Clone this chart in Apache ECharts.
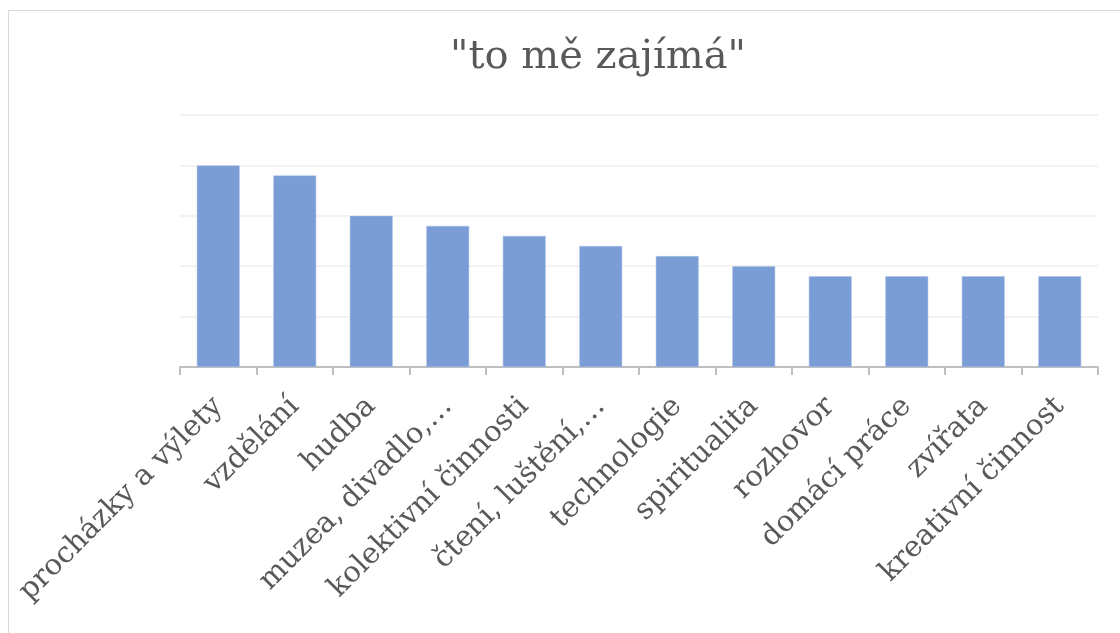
<!DOCTYPE html>
<html><head><meta charset="utf-8">
<script src="https://cdn.jsdelivr.net/npm/echarts@6/dist/echarts.min.js"></script>
<style>
html,body{margin:0;padding:0;background:#fff;}
#frame{position:absolute;left:8px;top:10px;width:1200px;height:700px;border:1px solid #d9d9d9;box-sizing:border-box;}
#chart{position:absolute;left:0;top:0;width:1120px;height:633px;}
</style>
</head><body>
<div id="frame"></div>
<div id="chart"></div>
<script>
const titleText = '"to mě zajímá"';
const categories = ['procházky a výlety','vzdělání','hudba','muzea, divadlo,…','kolektivní činnosti','čtení, luštění,…','technologie','spiritualita','rozhovor','domácí práce','zvířata','kreativní činnost'];
const values = [20, 19, 15, 14, 13, 12, 11, 10, 9, 9, 9, 9];
const yMin = 0, yMax = 25, yStep = 5;

const chart = echarts.init(document.getElementById('chart'), null, {renderer:'canvas'});
const serif = 'Georgia, "DejaVu Serif", serif';
chart.setOption({
  animation:false,
  backgroundColor:'transparent',
  title:{text:titleText,left:445,top:33,textStyle:{fontFamily:serif,fontSize:40,fontWeight:'normal',color:'#595959'}},
  grid:{left:180,right:22,top:115,bottom:266,containLabel:false},
  xAxis:{type:'category',data:categories,
    axisLine:{lineStyle:{color:'#bfbfbf',width:2}},
    axisTick:{show:true,alignWithLabel:false,length:8,lineStyle:{color:'#bfbfbf',width:2}},
    axisLabel:{rotate:45,interval:0,fontFamily:serif,fontSize:29,color:'#595959',margin:35}},
  yAxis:{type:'value',min:yMin,max:yMax,interval:yStep,
    axisLabel:{show:false},axisLine:{show:false},axisTick:{show:false},
    splitLine:{lineStyle:{color:'#efefef',width:1.5}}},
  series:[{type:'bar',data:values,barWidth:'56%',
    itemStyle:{color:'#7b9dd6',borderColor:'#a9bfe6',borderWidth:0.5}}]
});
</script>
</body></html>
